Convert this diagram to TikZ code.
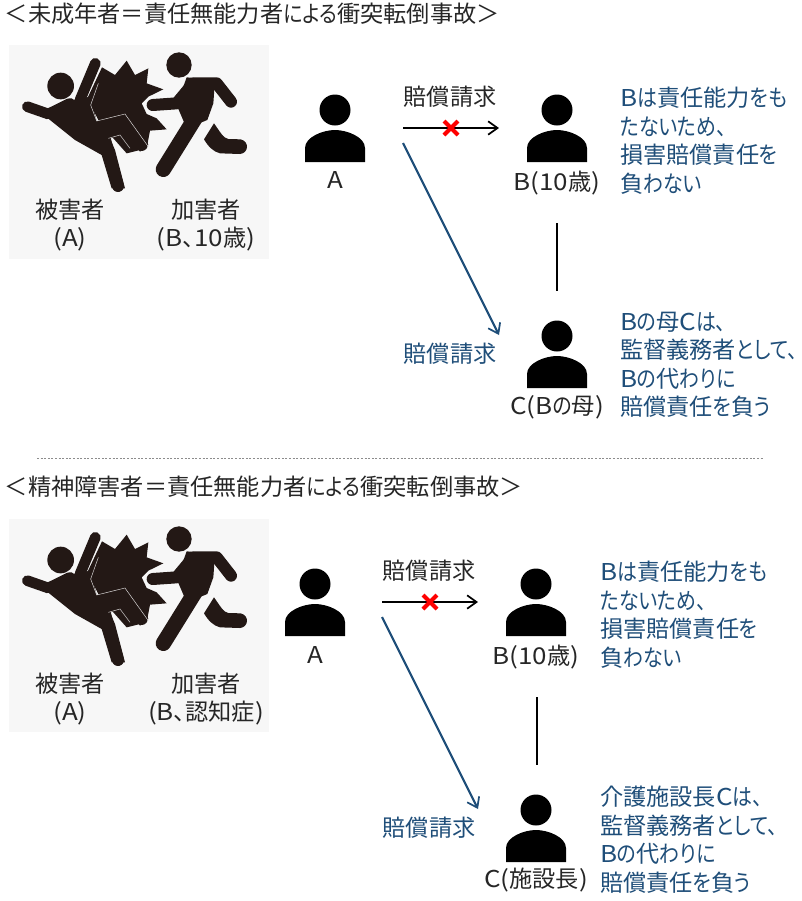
\documentclass[tikz,border=0pt]{standalone}
\usepackage{fontspec}
\setmainfont[RawFeature=+palt]{Noto Sans CJK JP}
\newfontfamily\kanafont[RawFeature=+palt,FakeStretch=0.86]{Noto Sans CJK JP}
\newfontfamily\latinfont[FakeStretch=1.12]{Noto Sans CJK JP}
\newcommand{\Kn}[1]{{\kanafont #1}}
\newcommand{\Lt}[1]{{\latinfont #1}}
\usetikzlibrary{arrows.meta}
\definecolor{navy}{HTML}{1F4E79}
\definecolor{ink}{HTML}{231815}
\tikzset{
  x=0.75pt,y=-0.75pt,
  txt/.style={inner sep=0pt,outer sep=0pt,font=\fontsize{17.4}{21.4}\selectfont,text=black!85},
  bluetxt/.style={txt,text=navy,align=left},
  title/.style={txt,anchor=west},
  conn/.style={line width=1.6pt,-{Straight Barb[length=7pt,width=10pt,line width=1.3pt]}},
  bconn/.style={conn,draw=navy},
  pics/person/.style={code={
    \fill[black] (0,-20) circle[radius=15.5];
    \fill[black] (-30,32) -- (-30,18) .. controls (-30,7) and (-12,0) .. (0,0)
       .. controls (12,0) and (30,7) .. (30,18) -- (30,32) -- cycle;
  }},
  pics/crossmark/.style={code={
    \draw[red,line width=3pt] (-7,-7) -- (7,7) (-7,7) -- (7,-7);
  }},
  pics/crash/.style={code={
    \begin{scope}[x=0.25pt,y=-0.25pt]
      % burst
      \fill[ink] (306,82) -- (345,105) -- (380,62) -- (405,105) -- (445,85) -- (440,130) -- (490,148)
        -- (445,170) -- (425,190) -- (440,222) -- (470,235) -- (500,268) -- (450,272) -- (440,325) -- (380,340) -- (300,250) -- (262,175) -- cycle;
      % victim
      \fill[ink] (182,138) circle[radius=40];
      \fill[ink] (140,232) -- (215,180) -- (272,170) -- (290,243) -- (410,222) -- (445,315) -- (420,335) -- (385,285) -- (330,295) -- (345,330) -- (375,445) -- (335,445) -- (305,345) -- (225,300) -- cycle;
      \draw[ink,line width=8pt,line cap=round,line join=round] (82,200) -- (145,222) -- (210,190);
      \draw[ink,line width=8pt,line cap=round] (286,70) -- (240,180);
      \draw[ink,line width=9pt,line cap=round] (315,300) -- (354,438);
      \draw[ink,line width=9pt,line cap=round,line join=round] (310,275) -- (395,250) -- (425,315);
      \draw[white!85!ink,line width=0.35pt] (295,130) -- (272,195) -- (290,243) -- (375,222) -- (445,320);
      \draw[white!85!ink,line width=0.35pt] (325,295) -- (360,285) -- (390,325);
      % attacker
      \fill[ink] (537,75) circle[radius=38];
      \draw[black!3,line width=12pt,line cap=round] (458,195) -- (510,195);
      \draw[ink,line width=9pt,line cap=round,line join=round] (458,195) -- (530,190) -- (580,130) -- (650,130) -- (693,185);
      \fill[ink] (560,112) -- (645,120) -- (640,190) -- (622,240) -- (560,265) -- (530,195) -- cycle;
      \draw[ink,line width=11.5pt,line cap=round] (490,388) -- (585,235);
      \fill[ink] (642,250) .. controls (660,275) and (670,295) .. (685,297) -- (722,298)
        .. controls (750,305) and (745,340) .. (720,342) -- (660,340) .. controls (640,335) and (625,320) .. (612,298) -- cycle;
    \end{scope}
  }}
}
\begin{document}
\begin{tikzpicture}
\useasboundingbox (0,0) rectangle (802,901);

% ---------- upper case
\node[title] (t1) at (5,14) {＜未成年者＝責任無能力者\Kn{による}衝突転倒事故＞};
\fill[black!3] (9,45) rectangle (269,259);
\pic at (0,40) {crash};
\node[txt] (v1) at (70,210) {被害者};
\node[txt] (va1) at (70,239) {\Lt{(A)}};
\node[txt] (g1) at (206,210) {加害者};
\node[txt] (gb1) at (206,239) {\Lt{(B}、\Lt{10}歳\Lt{)}};

\pic (pa1) at (335,130) {person};
\pic (pb1) at (557,130) {person};
\pic (pc1) at (557,356) {person};
\node[txt] (a1) at (335,180) {\Lt{A}};
\node[txt] (b1) at (557,183) {\Lt{B(10}歳\Lt{)}};
\node[txt] (c1) at (557,407) {\Lt{C(B}\Kn{の}母\Lt{)}};

\coordinate (s1) at (403,128);
\coordinate (e1) at (499,128);
\coordinate (s2) at (403,143);
\coordinate (e2) at (499,335);
\coordinate (u1) at (557,223);
\coordinate (d1) at (557,291);
\draw[conn] (s1) -- (e1);
\pic at (451,128) {crossmark};
\draw[bconn] (s2) -- (e2);
\draw[line width=1.5pt] (u1) -- (d1);
\node[txt] (r1) at (450,97) {賠償請求};
\node[txt,text=navy] (r2) at (450,354) {賠償請求};
\node[bluetxt,anchor=north west] (n1) at (620,87) {\Lt{B}\Kn{は}責任能力\Kn{をも}\\\Kn{たないため、}\\損害賠償責任\Kn{を}\\負\Kn{わない}};
\node[bluetxt,anchor=north west] (n2) at (620,312) {\Lt{B}\Kn{の}母\Lt{C}\Kn{は、}\\監督義務者\Kn{として、}\\\Lt{B}\Kn{の}代\Kn{わりに}\\賠償責任\Kn{を}負\Kn{う}};

% ---------- separator
\coordinate (l1) at (37,458);
\coordinate (l2) at (764,458);
\draw[black!45,line width=0.5pt,dash pattern=on 1.5pt off 1.2pt] (l1) -- (l2);

% ---------- lower case
\node[title] (t2) at (5,487) {＜精神障害者＝責任無能力者\Kn{による}衝突転倒事故＞};
\fill[black!3] (9,519) rectangle (269,732);
\pic at (0,514) {crash};
\node[txt] (v2) at (70,684) {被害者};
\node[txt] (va2) at (70,713) {\Lt{(A)}};
\node[txt] (g2) at (206,684) {加害者};
\node[txt] (gb2) at (206,713) {\Lt{(B}、認知症\Lt{)}};

\pic (pa2) at (315,604) {person};
\pic (pb2) at (536,604) {person};
\pic (pc2) at (536,830) {person};
\node[txt] (a2) at (315,655) {\Lt{A}};
\node[txt] (b2) at (536,657) {\Lt{B(10}歳\Lt{)}};
\node[txt] (c2) at (536,880) {\Lt{C(}施設長\Lt{)}};

\coordinate (s3) at (382,602);
\coordinate (e3) at (478,602);
\coordinate (s4) at (382,617);
\coordinate (e4) at (478,809);
\coordinate (u2) at (537,697);
\coordinate (d2) at (537,765);
\draw[conn] (s3) -- (e3);
\pic at (430,602) {crossmark};
\draw[bconn] (s4) -- (e4);
\draw[line width=1.5pt] (u2) -- (d2);
\node[txt] (r3) at (429,571) {賠償請求};
\node[txt,text=navy] (r4) at (429,828) {賠償請求};
\node[bluetxt,anchor=north west] (n3) at (600,561) {\Lt{B}\Kn{は}責任能力\Kn{をも}\\\Kn{たないため、}\\損害賠償責任\Kn{を}\\負\Kn{わない}};
\node[bluetxt,anchor=north west] (n4) at (600,786) {介護施設長\Lt{C}\Kn{は、}\\監督義務者\Kn{として、}\\\Lt{B}\Kn{の}代\Kn{わりに}\\賠償責任\Kn{を}負\Kn{う}};
\end{tikzpicture}
\end{document}
